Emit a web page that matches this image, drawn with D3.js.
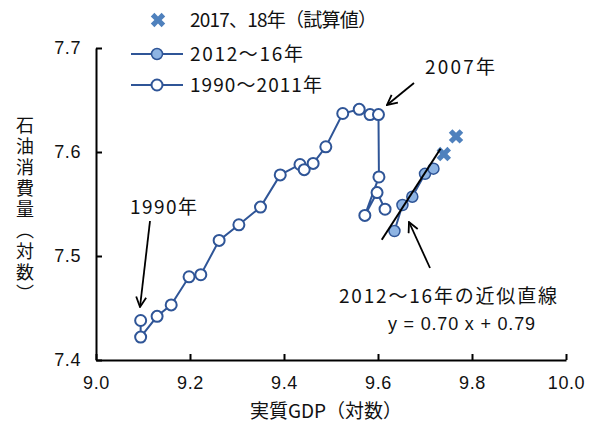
<!DOCTYPE html>
<html>
<head>
<meta charset="utf-8">
<script src="https://cdn.jsdelivr.net/npm/d3@7"></script>
<style>
  html, body { margin: 0; padding: 0; background: #fff; }
  svg text { font-family: "Noto Sans CJK JP", "Noto Sans", sans-serif; fill: #111; }
</style>
</head>
<body>
<svg id="chart" width="594" height="436"></svg>
<script>
// 1990–2011: log real GDP vs log oil consumption
const years1990 = [1990,1991,1992,1993,1994,1995,1996,1997,1998,1999,2000,2001,2002,2003,2004,2005,2006,2007,2008,2009,2010,2011];
const gdp1990 = [9.095,9.095,9.130,9.160,9.198,9.223,9.262,9.304,9.350,9.392,9.434,9.443,9.462,9.489,9.525,9.560,9.583,9.601,9.602,9.572,9.598,9.615];
const oil1990 = [7.438,7.422,7.442,7.453,7.480,7.482,7.515,7.530,7.547,7.578,7.588,7.583,7.589,7.605,7.637,7.641,7.636,7.636,7.576,7.539,7.561,7.545];

// 2012–16
const years2012 = [2012,2013,2014,2015,2016];
const gdp2012 = [9.635,9.652,9.673,9.700,9.718];
const oil2012 = [7.524,7.549,7.557,7.579,7.584];

// 2017, 2018 (estimates)
const years2017 = [2017,2018];
const gdp2017 = [9.740,9.766];
const oil2017 = [7.598,7.615];

// Linear fit for 2012–16: y = 0.70 x + 0.79
const fitSlope = 0.70;
const fitIntercept = 0.79;
const fitRange = [9.608, 9.733];

const xTicks = [9.0, 9.2, 9.4, 9.6, 9.8, 10.0];
const yTicks = [7.4, 7.5, 7.6, 7.7];

const legendLabels = ["2017、18年（試算値）", "2012～16年", "1990～2011年"];

const lineColor = "#2F5597";
const fillColor = "#8EB4E3";
const crossColor = "#4F81BD";
const latin = "'Liberation Sans', Arial, sans-serif";

const svg = d3.select("#chart");
const x = d3.scaleLinear().domain([9, 10]).range([96, 566]);
const y = d3.scaleLinear().domain([7.4, 7.7]).range([360, 48]);

// Axes with inward ticks
const xAxis = svg.append("g").attr("transform", "translate(0,360)")
  .call(d3.axisBottom(x).tickValues(xTicks).tickFormat(d3.format(".1f"))
    .tickSizeInner(-6).tickSizeOuter(0).tickPadding(16));
const yAxis = svg.append("g").attr("transform", "translate(96,0)")
  .call(d3.axisLeft(y).tickValues(yTicks).tickFormat(d3.format(".1f"))
    .tickSizeInner(-6).tickSizeOuter(0).tickPadding(15));
[xAxis, yAxis].forEach(g => {
  g.select(".domain").attr("stroke", "#000").attr("stroke-width", 2);
  g.selectAll(".tick line").attr("stroke", "#000").attr("stroke-width", 2);
  g.selectAll(".tick text").attr("font-size", 18).attr("fill", "#111")
    .style("font-family", latin).style("letter-spacing", "0.6px");
});

// Axis titles
svg.append("text").attr("x", 250).attr("y", 418)
  .attr("font-size", 19).attr("textLength", 152).attr("lengthAdjust", "spacing")
  .text("実質GDP（対数）");
svg.append("text").attr("x", 25).attr("y", 211)
  .attr("text-anchor", "middle").attr("font-size", 18)
  .style("writing-mode", "vertical-rl").style("letter-spacing", "3px")
  .text("石油消費量（対数）");

// Series
const pts1990 = years1990.map((yr, i) => ({ gdp: gdp1990[i], oil: oil1990[i] }));
const pts2012 = years2012.map((yr, i) => ({ gdp: gdp2012[i], oil: oil2012[i] }));
const pts2017 = years2017.map((yr, i) => ({ gdp: gdp2017[i], oil: oil2017[i] }));

const line = d3.line().x(d => x(d.gdp)).y(d => y(d.oil));
svg.append("path").datum(pts1990).attr("d", line)
  .attr("fill", "none").attr("stroke", lineColor).attr("stroke-width", 2);
svg.append("path").datum(pts2012).attr("d", line)
  .attr("fill", "none").attr("stroke", lineColor).attr("stroke-width", 2);

svg.append("g").selectAll("circle").data(pts1990).join("circle")
  .attr("cx", d => x(d.gdp)).attr("cy", d => y(d.oil)).attr("r", 5.5)
  .attr("fill", "#fff").attr("stroke", lineColor).attr("stroke-width", 2);
svg.append("g").selectAll("circle").data(pts2012).join("circle")
  .attr("cx", d => x(d.gdp)).attr("cy", d => y(d.oil)).attr("r", 5.5)
  .attr("fill", fillColor).attr("stroke", lineColor).attr("stroke-width", 1.5);

const cross = d3.symbol(d3.symbolCross, 130);
svg.append("g").selectAll("path").data(pts2017).join("path")
  .attr("d", cross)
  .attr("transform", d => `translate(${x(d.gdp)},${y(d.oil)}) rotate(45)`)
  .attr("fill", crossColor);

// Fit line for 2012–16
svg.append("line")
  .attr("x1", x(fitRange[0])).attr("y1", y(fitSlope * fitRange[0] + fitIntercept))
  .attr("x2", x(fitRange[1])).attr("y2", y(fitSlope * fitRange[1] + fitIntercept))
  .attr("stroke", "#000").attr("stroke-width", 2);

// Arrow marker
svg.append("defs").append("marker").attr("id", "arrow")
  .attr("viewBox", "0 0 12 12").attr("refX", 11).attr("refY", 6)
  .attr("markerWidth", 12).attr("markerHeight", 12).attr("markerUnits", "userSpaceOnUse")
  .attr("orient", "auto")
  .append("path").attr("d", "M1,1 L11,6 L1,11").attr("fill", "none")
  .attr("stroke", "#000").attr("stroke-width", 1.8);

function arrow(x1, y1, x2, y2) {
  svg.append("line").attr("x1", x1).attr("y1", y1).attr("x2", x2).attr("y2", y2)
    .attr("stroke", "#000").attr("stroke-width", 1.8).attr("marker-end", "url(#arrow)");
}
arrow(150, 221, 140, 307);
arrow(414, 83, 387, 105);
arrow(430, 268, 409, 222);

// Annotations
function label(tx, ty, len, str, size, family) {
  const t = svg.append("text").attr("x", tx).attr("y", ty).attr("font-size", size)
    .attr("textLength", len).attr("lengthAdjust", "spacing").text(str);
  if (family) t.style("font-family", family);
  return t;
}
label(130, 214, 67, "1990年", 19);
label(425, 74, 70, "2007年", 19);
label(339, 303, 218, "2012～16年の近似直線", 19);
label(388, 330, 147, `y = ${fitSlope.toFixed(2)} x + ${fitIntercept.toFixed(2)}`, 18, latin);

// Legend
const lg = svg.append("g");
lg.append("path").attr("d", cross)
  .attr("transform", "translate(158,20) rotate(45)").attr("fill", crossColor);
[[54, fillColor, 1.5], [85, "#fff", 2]].forEach(([ly, fill, sw]) => {
  lg.append("line").attr("x1", 131).attr("x2", 183).attr("y1", ly).attr("y2", ly)
    .attr("stroke", lineColor).attr("stroke-width", 2);
  lg.append("circle").attr("cx", 157).attr("cy", ly).attr("r", 5.5)
    .attr("fill", fill).attr("stroke", lineColor).attr("stroke-width", sw);
});
const legendY = [20, 54, 85];
const legendLen = [187, 113, 132];
legendLabels.forEach((t, i) => {
  lg.append("text").attr("x", 190).attr("y", legendY[i]).attr("dy", "0.36em")
    .attr("font-size", 19).attr("textLength", legendLen[i]).attr("lengthAdjust", "spacing")
    .text(t);
});
</script>
</body>
</html>
